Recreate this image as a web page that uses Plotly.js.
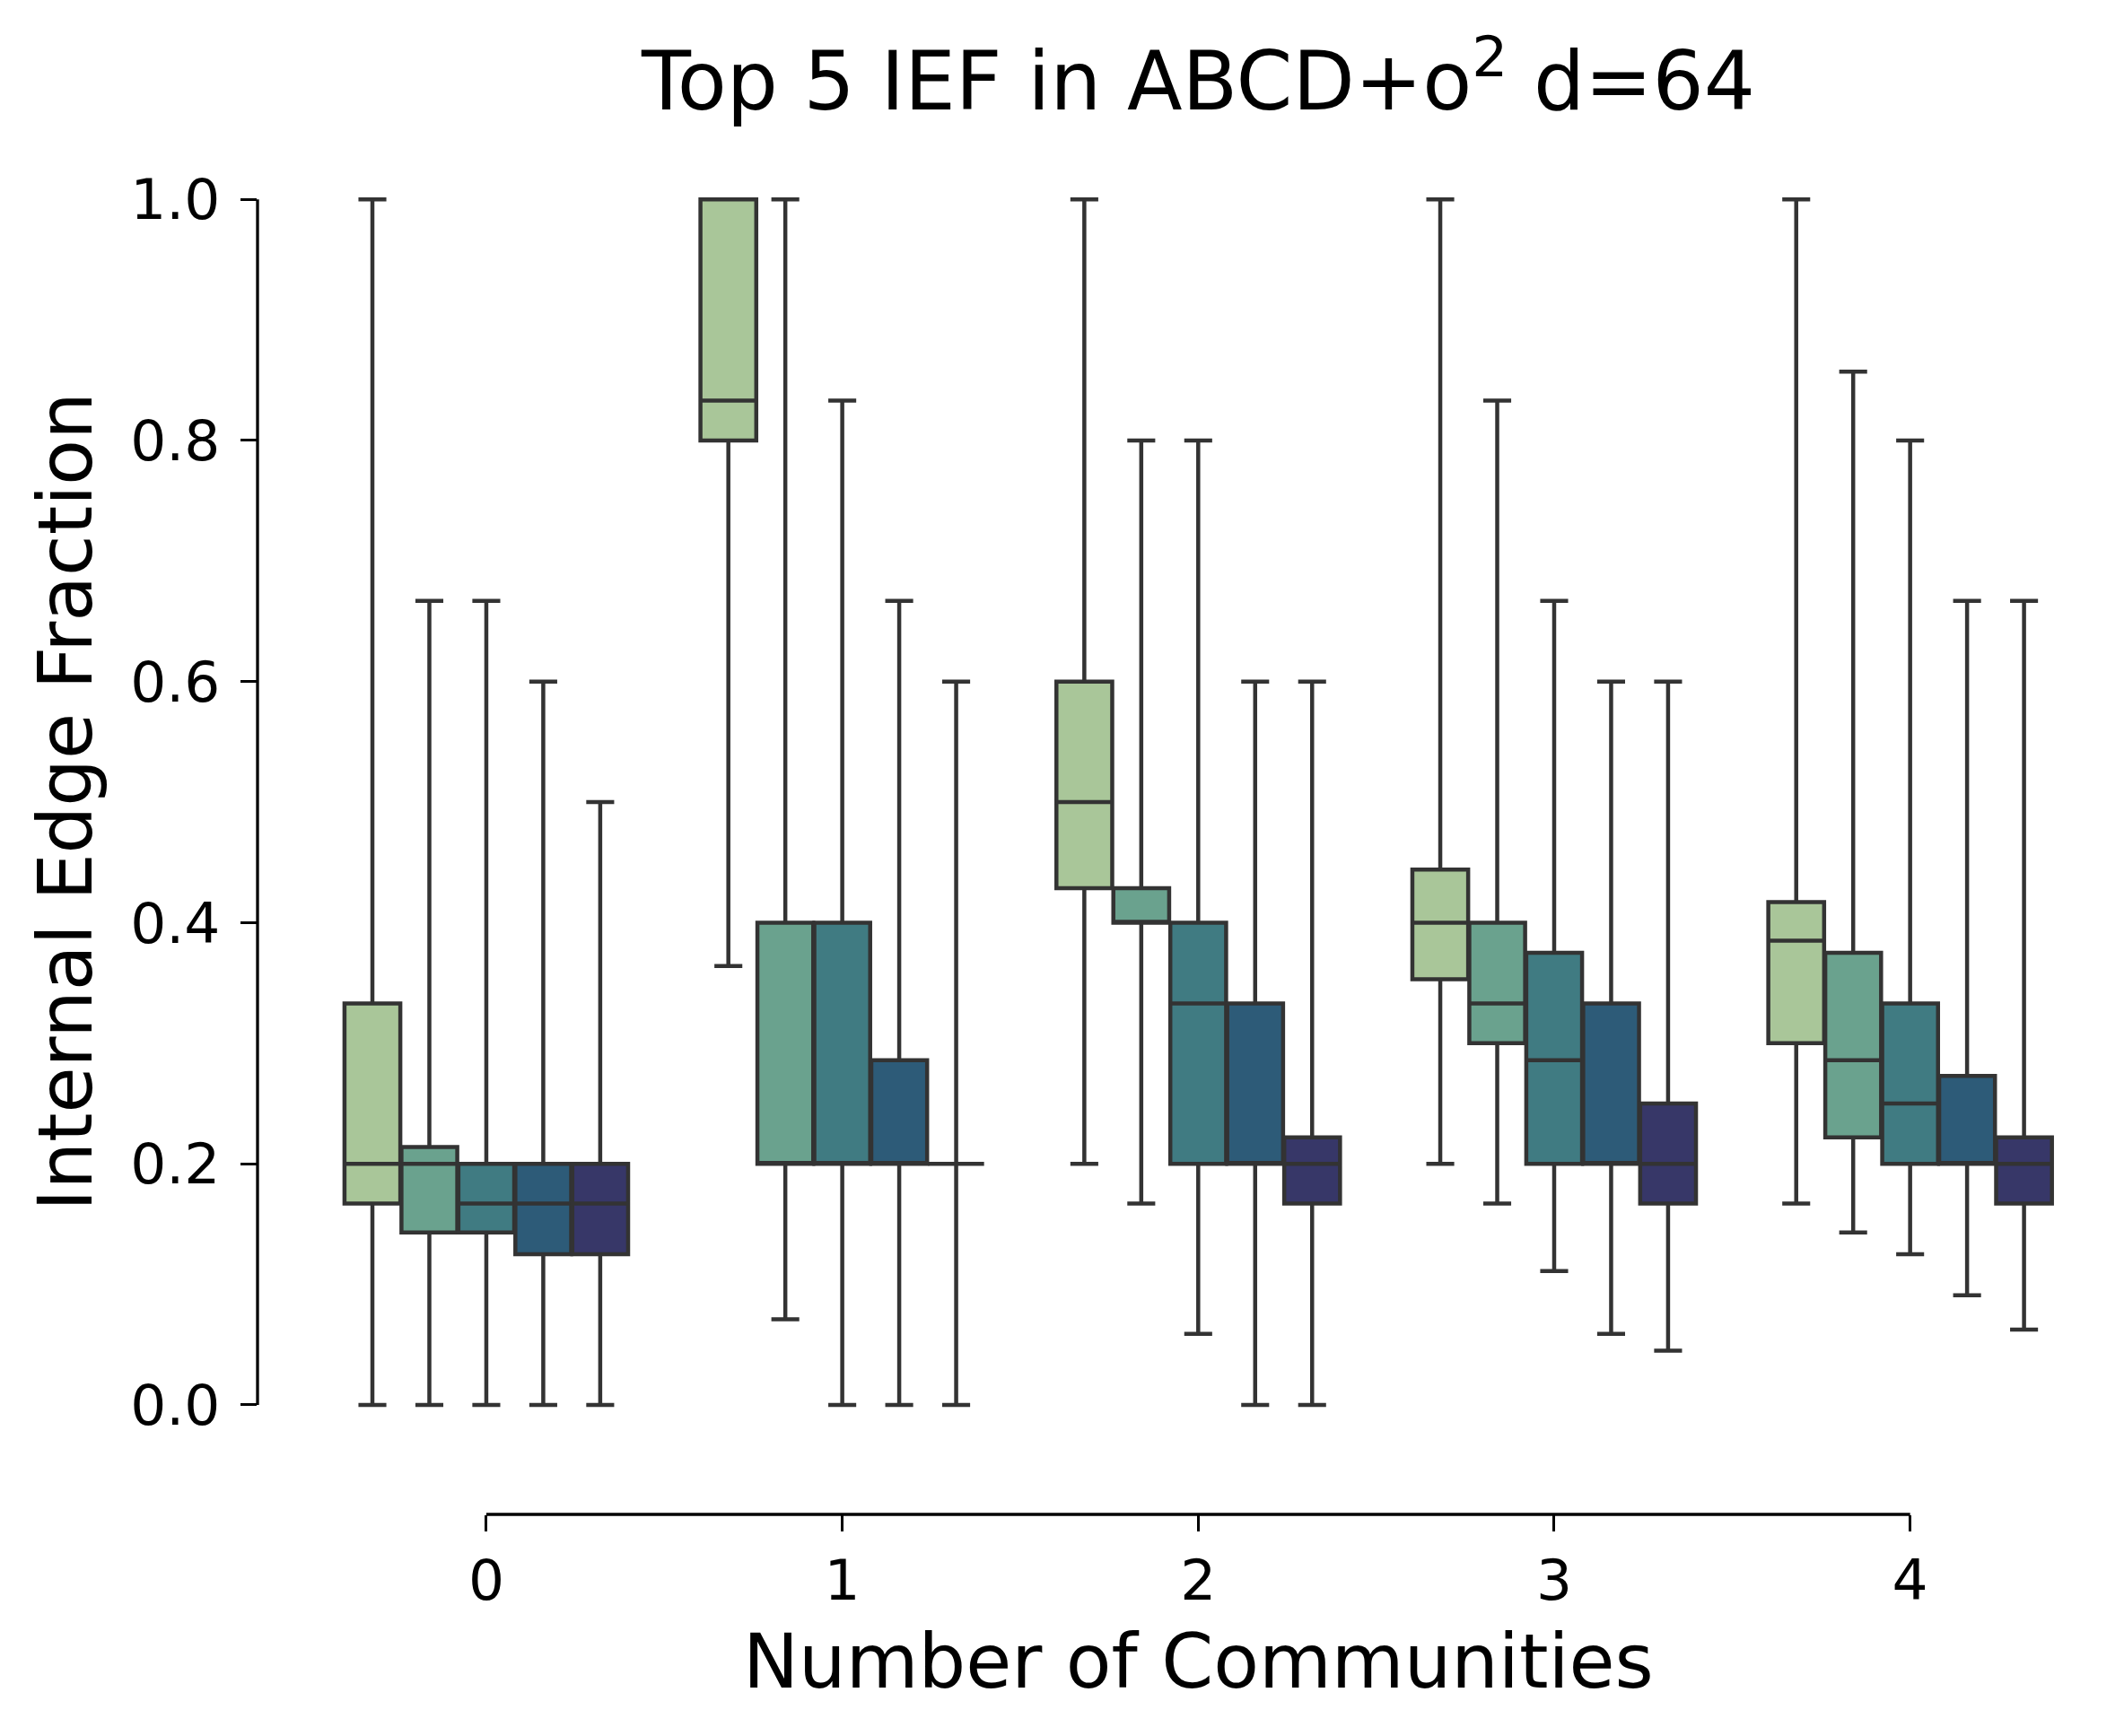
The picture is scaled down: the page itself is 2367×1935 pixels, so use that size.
<!DOCTYPE html>
<html>
<head>
<meta charset="utf-8">
<script src="https://cdn.plot.ly/plotly-3.0.1.min.js"></script>
<style>html,body{margin:0;padding:0;background:#fff;}#chart{width:2367px;height:1935px;}</style>
</head>
<body>
<div id="chart"></div>
<script>
// Categories: number of communities
const categories = [0, 1, 2, 3, 4];
const xTickLabels = ["0", "1", "2", "3", "4"];
const yTickVals = [0, 0.2, 0.4, 0.6, 0.8, 1.0];
const yTickLabels = ["0.0", "0.2", "0.4", "0.6", "0.8", "1.0"];

// Series names (top-5 ranks) and colours
const seriesNames = ["Rank 1", "Rank 2", "Rank 3", "Rank 4", "Rank 5"];
const seriesColors = ["#a9c699", "#6aa28e", "#407b82", "#2d5b78", "#373768"];

// Box statistics per rank, across categories 0..4
const lower1 = [0, 0.364, 0.2, 0.2, 0.167];
const q1_1   = [0.167, 0.8, 0.4286, 0.353, 0.3];
const med1   = [0.2, 0.833, 0.5, 0.4, 0.385];
const q3_1   = [0.333, 1.0, 0.6, 0.444, 0.417];
const upper1 = [1.0, 1.0, 1.0, 1.0, 1.0];

const lower2 = [0, 0.071, 0.167, 0.167, 0.143];
const q1_2   = [0.143, 0.2, 0.4, 0.3, 0.222];
const med2   = [0.2, 0.2, 0.4, 0.333, 0.286];
const q3_2   = [0.214, 0.4, 0.4286, 0.4, 0.375];
const upper2 = [0.667, 1.0, 0.8, 0.833, 0.857];

const lower3 = [0, 0, 0.059, 0.111, 0.125];
const q1_3   = [0.143, 0.2, 0.2, 0.2, 0.2];
const med3   = [0.167, 0.2, 0.333, 0.286, 0.25];
const q3_3   = [0.2, 0.4, 0.4, 0.375, 0.333];
const upper3 = [0.667, 0.833, 0.8, 0.667, 0.8];

const lower4 = [0, 0, 0, 0.059, 0.091];
const q1_4   = [0.125, 0.2, 0.2, 0.2, 0.2];
const med4   = [0.167, 0.2, 0.2, 0.2, 0.2];
const q3_4   = [0.2, 0.286, 0.333, 0.333, 0.273];
const upper4 = [0.6, 0.667, 0.6, 0.6, 0.667];

const lower5 = [0, 0, 0, 0.045, 0.0625];
const q1_5   = [0.125, 0.2, 0.167, 0.167, 0.167];
const med5   = [0.167, 0.2, 0.2, 0.2, 0.2];
const q3_5   = [0.2, 0.2, 0.222, 0.25, 0.222];
const upper5 = [0.5, 0.6, 0.6, 0.6, 0.667];

const stats = [
  [lower1, q1_1, med1, q3_1, upper1],
  [lower2, q1_2, med2, q3_2, upper2],
  [lower3, q1_3, med3, q3_3, upper3],
  [lower4, q1_4, med4, q3_4, upper4],
  [lower5, q1_5, med5, q3_5, upper5]
];

const FONT = "DejaVu Sans, Liberation Sans, sans-serif";
const lineColor = "#333333";

const traces = stats.map((s, i) => ({
  type: "box",
  name: seriesNames[i],
  x: categories,
  lowerfence: s[0],
  q1: s[1],
  median: s[2],
  q3: s[3],
  upperfence: s[4],
  boxpoints: false,
  fillcolor: seriesColors[i],
  line: {color: lineColor, width: 4.5},
  whiskerwidth: 0.5,
  hoverinfo: "skip",
  showlegend: false
}));

const layout = {
  width: 2367,
  height: 1935,
  paper_bgcolor: "#ffffff",
  plot_bgcolor: "#ffffff",
  margin: {l: 287, r: 40, t: 155, b: 247},
  boxmode: "group",
  boxgap: 0.2,
  boxgroupgap: 0.02,
  showlegend: false,
  font: {family: FONT, color: "#000000"},
  title: {
    text: "Top 5 IEF in ABCD+o<sup>2</sup> d=64",
    font: {family: FONT, size: 90, color: "#000000"},
    x: 0.514, xref: "paper", xanchor: "center",
    y: 0.953, yref: "container", yanchor: "middle"
  },
  xaxis: {
    range: [-0.6427, 4.5],
    tickvals: categories,
    ticktext: xTickLabels,
    ticks: "outside",
    ticklen: 18,
    tickwidth: 3,
    tickcolor: "#000000",
    tickfont: {family: FONT, size: 63, color: "#000000"},
    showline: false,
    showgrid: false,
    zeroline: false
  },
  yaxis: {
    range: [-0.0908, 1.05],
    tickvals: yTickVals,
    ticktext: yTickLabels,
    ticks: "outside",
    ticklen: 18,
    tickwidth: 3,
    tickcolor: "#000000",
    tickfont: {family: FONT, size: 63, color: "#000000"},
    ticklabelstandoff: 10,
    showline: false,
    showgrid: false,
    zeroline: false
  },
  annotations: [
    {text: "Number of Communities", xref: "x", x: 2, yref: "paper", y: -0.1076,
     xanchor: "center", yanchor: "middle", showarrow: false,
     font: {family: FONT, size: 83, color: "#000000"}},
    {text: "Internal Edge Fraction", xref: "paper", x: -0.1049, yref: "y", y: 0.5,
     xanchor: "center", yanchor: "middle", textangle: -90, showarrow: false,
     font: {family: FONT, size: 83, color: "#000000"}}
  ],
  shapes: [
    {type: "line", xref: "paper", yref: "y", x0: 0, x1: 0, y0: 0, y1: 1, line: {color: "#000000", width: 3.3}},
    {type: "line", xref: "x", yref: "paper", x0: 0, x1: 4, y0: 0, y1: 0, line: {color: "#000000", width: 3.3}}
  ]
};

Plotly.newPlot("chart", traces, layout, {displayModeBar: false, staticPlot: true});
</script>
</body>
</html>
